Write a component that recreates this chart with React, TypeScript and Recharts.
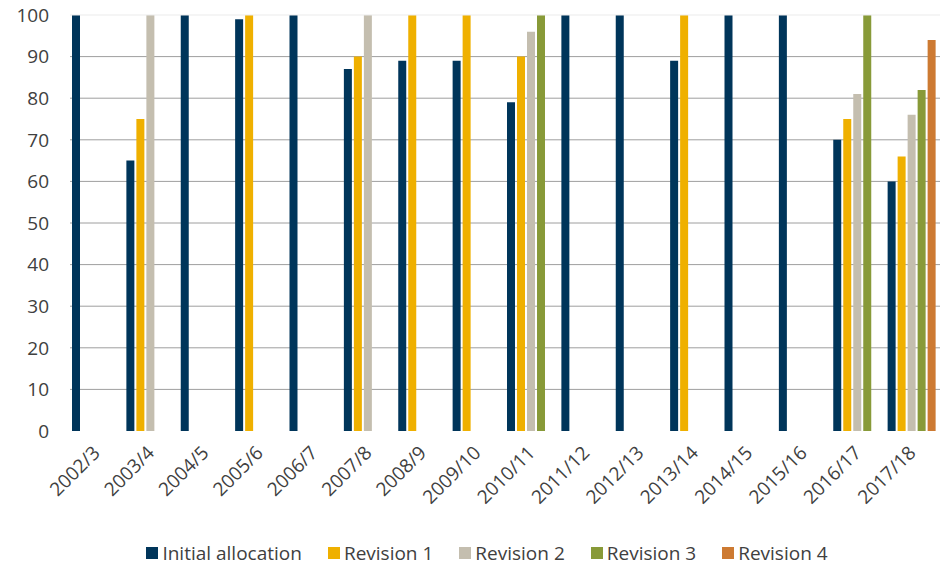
import React from "react";
import {
  BarChart,
  Bar,
  XAxis,
  YAxis,
  CartesianGrid,
  ReferenceLine,
  Legend,
} from "recharts";

const years = [
  "2002/3", "2003/4", "2004/5", "2005/6", "2006/7", "2007/8", "2008/9", "2009/10",
  "2010/11", "2011/12", "2012/13", "2013/14", "2014/15", "2015/16", "2016/17", "2017/18",
];

const initialAllocation = [100, 65, 100, 99, 100, 87, 89, 89, 79, 100, 100, 89, 100, 100, 70, 60];
const revision1 = [null, 75, null, 100, null, 90, 100, 100, 90, null, null, 100, null, null, 75, 66];
const revision2 = [null, 100, null, null, null, 100, null, null, 96, null, null, null, null, null, 81, 76];
const revision3 = [null, null, null, null, null, null, null, null, 100, null, null, null, null, null, 100, 82];
const revision4 = [null, null, null, null, null, null, null, null, null, null, null, null, null, null, null, 94];

const yTicks = [0, 10, 20, 30, 40, 50, 60, 70, 80, 90, 100];
const gridValues = [10, 20, 30, 40, 50, 60, 70, 80, 90];

const series = [
  { key: "initial", name: "Initial allocation", color: "#00355A" },
  { key: "rev1", name: "Revision 1", color: "#EFB000" },
  { key: "rev2", name: "Revision 2", color: "#C4BEAF" },
  { key: "rev3", name: "Revision 3", color: "#889A38" },
  { key: "rev4", name: "Revision 4", color: "#CD7A32" },
];

const data = years.map((year, i) => ({
  year,
  initial: initialAllocation[i],
  rev1: revision1[i],
  rev2: revision2[i],
  rev3: revision3[i],
  rev4: revision4[i],
}));

const FONT = "'Open Sans', sans-serif";
const TEXT = "#404040";

const XTick = (props: any) => {
  const { x, y, payload } = props;
  return (
    <text
      x={x + 4}
      y={y + 15}
      textAnchor="end"
      fill={TEXT}
      fontSize={19}
      fontFamily={FONT}
      transform={`rotate(-45, ${x + 4}, ${y + 15})`}
    >
      {payload.value}
    </text>
  );
};

const LegendRow = () => (
  <div
    style={{
      display: "flex",
      justifyContent: "center",
      alignItems: "center",
      fontFamily: FONT,
      fontSize: 19,
      color: TEXT,
      height: 25,
      paddingLeft: 34,
    }}
  >
    {series.map((s, i) => (
      <div
        key={s.key}
        style={{
          display: "flex",
          alignItems: "center",
          marginRight: i < series.length - 1 ? 26 : 0,
        }}
      >
        <span style={{ width: 12, height: 12, background: s.color, marginRight: 4 }} />
        <span>{s.name}</span>
      </div>
    ))}
  </div>
);

export default function App() {
  return (
    <div style={{ position: "absolute", left: 0, top: 0, background: "#fff" }}>
      <BarChart
        width={943}
        height={565}
        data={data}
        margin={{ top: 15, right: 3, bottom: 0, left: 0 }}
        barCategoryGap={2}
        barGap={2}
      >
        <CartesianGrid vertical={false} horizontalValues={gridValues} stroke="#9E9E9E" strokeWidth={1} />
        <ReferenceLine y={100} stroke="#EBEBEB" />
        <XAxis
          dataKey="year"
          interval={0}
          height={109}
          tick={<XTick />}
          tickLine={false}
          axisLine={false}
        />
        <YAxis
          domain={[0, 100]}
          ticks={yTicks}
          width={70}
          tickLine={false}
          axisLine={false}
          tickSize={0}
          tickMargin={21}
          tick={{ fill: TEXT, fontSize: 19, fontFamily: FONT }}
        />
        <Legend verticalAlign="bottom" height={25} content={<LegendRow />} />
        {series.map((s) => (
          <Bar
            key={s.key}
            dataKey={s.key}
            name={s.name}
            fill={s.color}
            isAnimationActive={false}
          />
        ))}
      </BarChart>
    </div>
  );
}
